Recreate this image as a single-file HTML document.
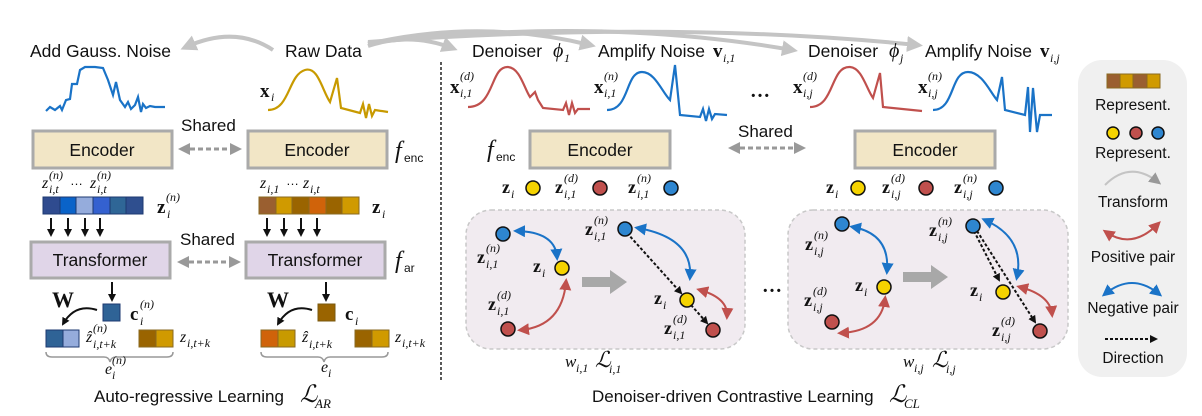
<!DOCTYPE html>
<html><head><meta charset="utf-8">
<style>
html,body{margin:0;padding:0;background:#fff;}
svg{display:block;}
.s{font-family:"Liberation Sans",sans-serif;fill:#111;}
.m{font-family:"Liberation Serif",serif;font-style:italic;fill:#111;}
.b{font-family:"Liberation Serif",serif;font-weight:bold;fill:#111;}
</style></head><body>
<svg width="1202" height="416" viewBox="0 0 1202 416" xmlns="http://www.w3.org/2000/svg">
<defs>
<marker id="ak" markerWidth="8" markerHeight="8" refX="6" refY="4" orient="auto-start-reverse" markerUnits="userSpaceOnUse"><path d="M0,0 L8,4 L0,8 z" fill="#111"/></marker>
<marker id="ag" markerWidth="12" markerHeight="12" refX="8" refY="6" orient="auto-start-reverse" markerUnits="userSpaceOnUse"><path d="M0,0 L12,6 L0,12 z" fill="#999"/></marker>
<marker id="al" markerWidth="16" markerHeight="16" refX="10" refY="8" orient="auto-start-reverse" markerUnits="userSpaceOnUse"><path d="M0,0 L16,8 L0,16 z" fill="#c4c4c4"/></marker>
<marker id="ab" markerWidth="12" markerHeight="12" refX="8" refY="6" orient="auto-start-reverse" markerUnits="userSpaceOnUse"><path d="M0,0 L12,6 L0,12 z" fill="#1a73c7"/></marker>
<marker id="ar" markerWidth="12" markerHeight="12" refX="8" refY="6" orient="auto-start-reverse" markerUnits="userSpaceOnUse"><path d="M0,0 L12,6 L0,12 z" fill="#c0504d"/></marker>
</defs>

<!-- top grey transform arrows -->
<g fill="none" stroke="#c4c4c4" stroke-width="4" marker-end="url(#al)">
<path d="M273,50 Q235,25 186,47"/>
<path d="M368,46 Q410,32 452,48"/>
<path d="M368,44 Q480,18 590,45"/>
<path d="M368,43 Q600,16 792,50"/>
<path d="M368,42 Q670,20 917,45"/>
</g>

<!-- top texts -->
<text class="s" x="30" y="57" font-size="17.5">Add Gauss. Noise</text>
<text class="s" x="285" y="57" font-size="17.5">Raw Data</text>
<text class="s" x="472" y="57" font-size="17.5">Denoiser</text>
<text class="m" x="553" y="57" font-size="20">ϕ</text><text class="m" x="564" y="62" font-size="12">1</text>
<text class="s" x="598" y="57" font-size="17.5">Amplify Noise</text>
<text class="b" x="713" y="57" font-size="19">v</text><text class="m" x="723" y="62" font-size="12">i,1</text>
<text class="s" x="808" y="57" font-size="17.5">Denoiser</text>
<text class="m" x="889" y="57" font-size="20">ϕ</text><text class="m" x="900" y="62" font-size="12">j</text>
<text class="s" x="925" y="57" font-size="17.5">Amplify Noise</text>
<text class="b" x="1040" y="57" font-size="19">v</text><text class="m" x="1050" y="62" font-size="12">i,j</text>

<!-- left signals -->
<polyline fill="none" stroke="#1a73c7" stroke-width="2.2" points="46,111 50,107 55,110 60,106 62,110 66,100 70,99 72,84 77,84 80,70 85,67 95,67 103,68 108,80 113,95 116,82 120,100 125,107 128,102 131,109 135,105 138,97 141,112 143,104 146,108 150,106 155,107 165,107"/>
<text class="b" x="260" y="97" font-size="19">x</text><text class="m" x="271" y="101" font-size="12">i</text>
<path fill="none" stroke="#c89a00" stroke-width="2.2" d="M268,110 C290,110 288,75 305,70 C318,66 322,90 330,102 L337,78 L341,108 L360,113 L363,104 L366,118 L369,104 L372,116 L375,110 L388,112"/>

<!-- right signals -->
<text class="b" x="450" y="93" font-size="19">x</text><text class="m" x="460" y="80" font-size="12">(d)</text><text class="m" x="460" y="97" font-size="12">i,1</text>
<path fill="none" stroke="#c0504d" stroke-width="2.2" d="M468,107 C495,107 490,66 508,67 C520,68 524,88 530,97 L535,92 L538,100 L543,108 L563,110 L566,103 L569,115 L572,103 L575,113 L578,109 L590,109"/>
<text class="b" x="594" y="93" font-size="19">x</text><text class="m" x="604" y="80" font-size="12">(n)</text><text class="m" x="604" y="97" font-size="12">i,1</text>
<path fill="none" stroke="#1a73c7" stroke-width="2.2" d="M607,110 C630,110 625,72 642,72 C655,72 662,92 670,100 L675,65 L680,115 L700,117 L703,109 L706,121 L709,109 L712,119 L715,114 L727,115"/>
<text class="b" x="750" y="97" font-size="20">…</text>
<text class="b" x="793" y="93" font-size="19">x</text><text class="m" x="803" y="80" font-size="12">(d)</text><text class="m" x="803" y="97" font-size="12">i,j</text>
<path fill="none" stroke="#c0504d" stroke-width="2.2" d="M810,107 C835,107 830,66 850,67 C862,68 866,88 873,98 L880,73 L883,107 L922,111"/>
<text class="b" x="918" y="93" font-size="19">x</text><text class="m" x="928" y="80" font-size="12">(n)</text><text class="m" x="928" y="97" font-size="12">i,j</text>
<path fill="none" stroke="#1a73c7" stroke-width="2.2" d="M933,110 C955,110 950,72 968,72 C982,72 990,92 997,100 L1002,77 L1005,110 L1025,115 L1028,87 L1030,132 L1033,88 L1037,132 L1040,115 L1052,115"/>

<!-- separator -->
<line x1="441" y1="62" x2="441" y2="382" stroke="#222" stroke-width="1.5" stroke-dasharray="3,2"/>

<!-- encoders -->
<g stroke="#aaa" stroke-width="3" fill="#f2e6c6">
<rect x="33" y="131" width="139" height="37"/>
<rect x="248" y="131" width="139" height="37"/>
<rect x="530" y="131" width="140" height="37"/>
<rect x="855" y="131" width="140" height="37"/>
</g>
<g class="s" font-size="17.5" text-anchor="middle">
<text x="102" y="156">Encoder</text>
<text x="317" y="156">Encoder</text>
<text x="600" y="156">Encoder</text>
<text x="925" y="156">Encoder</text>
</g>
<text class="s" x="181" y="131" font-size="17">Shared</text>
<text class="s" x="738" y="137" font-size="17">Shared</text>
<text class="s" x="180" y="245" font-size="17">Shared</text>
<g stroke="#999" stroke-width="3" stroke-dasharray="5,3" fill="none" marker-start="url(#ag)" marker-end="url(#ag)">
<line x1="182" y1="149" x2="238" y2="149"/>
<line x1="732" y1="148" x2="802" y2="148"/>
<line x1="181" y1="262" x2="237" y2="262"/>
</g>
<text class="m" x="395" y="158" font-size="24">f</text><text class="s" x="404" y="162" font-size="12">enc</text>
<text class="m" x="395" y="268" font-size="24">f</text><text class="s" x="404" y="272" font-size="12">ar</text>
<text class="m" x="487" y="157" font-size="24">f</text><text class="s" x="496" y="161" font-size="12">enc</text>

<!-- z labels left -->
<text class="m" x="42" y="188" font-size="16">z</text><text class="m" x="49" y="179" font-size="12">(n)</text><text class="m" x="49" y="193" font-size="12">i,t</text>
<text class="s" x="70" y="185" font-size="13">…</text>
<text class="m" x="90" y="188" font-size="16">z</text><text class="m" x="97" y="179" font-size="12">(n)</text><text class="m" x="97" y="193" font-size="12">i,t</text>
<text class="m" x="260" y="188" font-size="16">z</text><text class="m" x="267" y="193" font-size="12">i,1</text>
<text class="s" x="286" y="185" font-size="13">…</text>
<text class="m" x="303" y="188" font-size="16">z</text><text class="m" x="310" y="193" font-size="12">i,t</text>

<!-- strips -->
<g stroke="#1e3a70" stroke-width="1">
<rect x="43" y="197" width="17" height="17" fill="#2f4b8f"/>
<rect x="60" y="197" width="16" height="17" fill="#0a63c9"/>
<rect x="76" y="197" width="17" height="17" fill="#95acdc"/>
<rect x="93" y="197" width="17" height="17" fill="#3461d0"/>
<rect x="110" y="197" width="16" height="17" fill="#2f6696"/>
<rect x="126" y="197" width="17" height="17" fill="#2f4f8f"/>
</g>
<g stroke="#8a6a20" stroke-width="1">
<rect x="259" y="197" width="17" height="17" fill="#9a5f30"/>
<rect x="276" y="197" width="16" height="17" fill="#d09a00"/>
<rect x="292" y="197" width="17" height="17" fill="#9a6400"/>
<rect x="309" y="197" width="17" height="17" fill="#d0630a"/>
<rect x="326" y="197" width="16" height="17" fill="#9a6400"/>
<rect x="342" y="197" width="17" height="17" fill="#d09a00"/>
</g>
<text class="b" x="157" y="213" font-size="19">z</text><text class="m" x="166" y="201" font-size="12">(n)</text><text class="m" x="167" y="218" font-size="12">i</text>
<text class="b" x="372" y="213" font-size="19">z</text><text class="m" x="382" y="218" font-size="12">i</text>

<!-- down arrows -->
<g stroke="#111" stroke-width="2" marker-end="url(#ak)">
<line x1="51" y1="218" x2="51" y2="235"/><line x1="68" y1="218" x2="68" y2="235"/><line x1="85" y1="218" x2="85" y2="235"/><line x1="100" y1="218" x2="100" y2="235"/>
<line x1="267" y1="218" x2="267" y2="235"/><line x1="284" y1="218" x2="284" y2="235"/><line x1="301" y1="218" x2="301" y2="235"/><line x1="317" y1="218" x2="317" y2="235"/>
<line x1="112" y1="282" x2="112" y2="300"/><line x1="326" y1="282" x2="326" y2="300"/>
</g>

<!-- transformers -->
<g stroke="#aaa" stroke-width="3" fill="#e0d5e8">
<rect x="31" y="242" width="139" height="36"/>
<rect x="246" y="242" width="139" height="36"/>
</g>
<g class="s" font-size="17.5" text-anchor="middle">
<text x="100" y="266">Transformer</text>
<text x="315" y="266">Transformer</text>
</g>

<!-- bottom left AR -->
<rect x="103" y="304" width="17" height="17" fill="#2f6396" stroke="#1e3a70"/>
<rect x="318" y="304" width="17" height="17" fill="#9a6400" stroke="#7a5a10"/>
<text class="b" x="130" y="320" font-size="19">c</text><text class="m" x="140" y="308" font-size="12">(n)</text><text class="m" x="140" y="325" font-size="12">i</text>
<text class="b" x="345" y="320" font-size="19">c</text><text class="m" x="355" y="325" font-size="12">i</text>
<text class="b" x="52" y="307" font-size="22">W</text>
<text class="b" x="267" y="307" font-size="22">W</text>
<path d="M97,310 Q75,303 63,324" fill="none" stroke="#111" stroke-width="2" marker-end="url(#ak)"/>
<path d="M312,310 Q290,303 278,324" fill="none" stroke="#111" stroke-width="2" marker-end="url(#ak)"/>
<rect x="46" y="330" width="17" height="17" fill="#2f6396" stroke="#1e3a70"/>
<rect x="63" y="330" width="16" height="17" fill="#95acdc" stroke="#1e3a70"/>
<rect x="139" y="330" width="17" height="17" fill="#9a6400" stroke="#8a6a20"/>
<rect x="156" y="330" width="17" height="17" fill="#d09a00" stroke="#8a6a20"/>
<rect x="261" y="330" width="17" height="17" fill="#d0630a" stroke="#8a6a20"/>
<rect x="278" y="330" width="17" height="17" fill="#c89a00" stroke="#8a6a20"/>
<rect x="355" y="330" width="17" height="17" fill="#9a6400" stroke="#8a6a20"/>
<rect x="372" y="330" width="17" height="17" fill="#d09a00" stroke="#8a6a20"/>
<text class="m" x="86" y="342" font-size="16">ẑ</text><text class="m" x="93" y="332" font-size="12">(n)</text><text class="m" x="93" y="348" font-size="12">i,t+k</text>
<text class="m" x="180" y="342" font-size="16">z</text><text class="m" x="187" y="347" font-size="12">i,t+k</text>
<text class="m" x="302" y="342" font-size="16">ẑ</text><text class="m" x="309" y="348" font-size="12">i,t+k</text>
<text class="m" x="395" y="342" font-size="16">z</text><text class="m" x="402" y="347" font-size="12">i,t+k</text>
<path d="M46,352 Q46,357 52,357 L104,357 Q109,357 110,362 Q111,357 116,357 L167,357 Q173,357 173,352" fill="none" stroke="#999" stroke-width="1.5"/>
<path d="M261,352 Q261,357 267,357 L318,357 Q323,357 324,362 Q325,357 330,357 L382,357 Q388,357 388,352" fill="none" stroke="#999" stroke-width="1.5"/>
<text class="m" x="105" y="374" font-size="16">e</text><text class="m" x="112" y="364" font-size="12">(n)</text><text class="m" x="112" y="379" font-size="12">i</text>
<text class="m" x="321" y="372" font-size="16">e</text><text class="m" x="328" y="377" font-size="12">i</text>
<text class="s" x="94" y="402" font-size="17">Auto-regressive Learning</text>
<text class="m" x="300" y="402" font-size="24">ℒ</text><text class="m" x="315" y="408" font-size="13">AR</text>

<!-- dots rows -->
<g>
<text class="b" x="502" y="193" font-size="18">z</text><text class="m" x="511" y="198" font-size="12">i</text>
<text class="b" x="555" y="193" font-size="18">z</text><text class="m" x="564" y="182" font-size="12">(d)</text><text class="m" x="564" y="198" font-size="12">i,1</text>
<text class="b" x="628" y="193" font-size="18">z</text><text class="m" x="637" y="182" font-size="12">(n)</text><text class="m" x="637" y="198" font-size="12">i,1</text>
<text class="b" x="826" y="193" font-size="18">z</text><text class="m" x="835" y="198" font-size="12">i</text>
<text class="b" x="882" y="193" font-size="18">z</text><text class="m" x="891" y="182" font-size="12">(d)</text><text class="m" x="891" y="198" font-size="12">i,j</text>
<text class="b" x="954" y="193" font-size="18">z</text><text class="m" x="963" y="182" font-size="12">(n)</text><text class="m" x="963" y="198" font-size="12">i,j</text>
</g>
<g stroke="#111" stroke-width="1.5">
<circle cx="533" cy="188" r="7" fill="#f5d300"/><circle cx="600" cy="188" r="7" fill="#c0504d"/><circle cx="671" cy="188" r="7" fill="#2e86d0"/>
<circle cx="858" cy="188" r="7" fill="#f5d300"/><circle cx="926" cy="188" r="7" fill="#c0504d"/><circle cx="996" cy="188" r="7" fill="#2e86d0"/>
</g>

<!-- panels -->
<rect x="466" y="210" width="279" height="139" rx="25" fill="#f1ebf0" stroke="#c8c8c8" stroke-width="1.5" stroke-dasharray="4,3"/>
<rect x="788" y="210" width="280" height="139" rx="25" fill="#f1ebf0" stroke="#c8c8c8" stroke-width="1.5" stroke-dasharray="4,3"/>
<text class="b" x="762" y="292" font-size="20">…</text>

<!-- panel 1 -->
<path d="M582,277 L610,277 L610,270 L627,282 L610,294 L610,287 L582,287 z" fill="#a8a8a8"/>
<path d="M517,231 Q555,232 557,257" fill="none" stroke="#1a73c7" stroke-width="2" marker-start="url(#ab)" marker-end="url(#ab)"/>
<path d="M521,330 Q562,326 566,282" fill="none" stroke="#c0504d" stroke-width="2" marker-start="url(#ar)" marker-end="url(#ar)"/>
<path d="M638,228 Q693,238 690,277" fill="none" stroke="#1a73c7" stroke-width="2" marker-start="url(#ab)" marker-end="url(#ab)"/>
<path d="M700,290 Q728,298 727,316" fill="none" stroke="#c0504d" stroke-width="2" marker-start="url(#ar)" marker-end="url(#ar)"/>
<g stroke="#111" stroke-width="2" stroke-dasharray="3,2" marker-end="url(#ak)">
<line x1="627" y1="233" x2="681" y2="293"/><line x1="691" y1="305" x2="707" y2="323"/>
</g>
<g stroke="#111" stroke-width="1.5">
<circle cx="503" cy="234" r="7" fill="#2e86d0"/><circle cx="562" cy="268" r="7" fill="#f5d300"/><circle cx="508" cy="329" r="7" fill="#c0504d"/>
<circle cx="625" cy="229" r="7" fill="#2e86d0"/><circle cx="687" cy="300" r="7" fill="#f5d300"/><circle cx="713" cy="330" r="7" fill="#c0504d"/>
</g>
<text class="b" x="477" y="263" font-size="18">z</text><text class="m" x="486" y="252" font-size="12">(n)</text><text class="m" x="486" y="268" font-size="12">i,1</text>
<text class="b" x="533" y="272" font-size="18">z</text><text class="m" x="542" y="277" font-size="12">i</text>
<text class="b" x="488" y="310" font-size="18">z</text><text class="m" x="497" y="299" font-size="12">(d)</text><text class="m" x="497" y="315" font-size="12">i,1</text>
<text class="b" x="585" y="235" font-size="18">z</text><text class="m" x="594" y="224" font-size="12">(n)</text><text class="m" x="594" y="240" font-size="12">i,1</text>
<text class="b" x="654" y="304" font-size="18">z</text><text class="m" x="663" y="309" font-size="12">i</text>
<text class="b" x="664" y="334" font-size="18">z</text><text class="m" x="673" y="323" font-size="12">(d)</text><text class="m" x="673" y="339" font-size="12">i,1</text>

<!-- panel 2 -->
<path d="M903,272 L931,272 L931,265 L948,277 L931,289 L931,282 L903,282 z" fill="#a8a8a8"/>
<path d="M853,227 Q890,234 887,271" fill="none" stroke="#1a73c7" stroke-width="2" marker-start="url(#ab)" marker-end="url(#ab)"/>
<path d="M841,333 Q881,331 885,299" fill="none" stroke="#c0504d" stroke-width="2" marker-start="url(#ar)" marker-end="url(#ar)"/>
<path d="M985,220 Q1025,238 1017,277" fill="none" stroke="#1a73c7" stroke-width="2" marker-start="url(#ab)" marker-end="url(#ab)"/>
<path d="M1020,287 Q1050,295 1052,314" fill="none" stroke="#c0504d" stroke-width="2" marker-start="url(#ar)" marker-end="url(#ar)"/>
<g stroke="#111" stroke-width="2" stroke-dasharray="3,2" marker-end="url(#ak)">
<line x1="974" y1="231" x2="999" y2="280"/><line x1="977" y1="231" x2="1035" y2="322"/>
</g>
<g stroke="#111" stroke-width="1.5">
<circle cx="842" cy="224" r="7" fill="#2e86d0"/><circle cx="884" cy="287" r="7" fill="#f5d300"/><circle cx="832" cy="322" r="7" fill="#c0504d"/>
<circle cx="973" cy="226" r="7" fill="#2e86d0"/><circle cx="1003" cy="292" r="7" fill="#f5d300"/><circle cx="1040" cy="331" r="7" fill="#c0504d"/>
</g>
<text class="b" x="805" y="250" font-size="18">z</text><text class="m" x="814" y="239" font-size="12">(n)</text><text class="m" x="814" y="255" font-size="12">i,j</text>
<text class="b" x="855" y="291" font-size="18">z</text><text class="m" x="864" y="296" font-size="12">i</text>
<text class="b" x="804" y="306" font-size="18">z</text><text class="m" x="813" y="295" font-size="12">(d)</text><text class="m" x="813" y="311" font-size="12">i,j</text>
<text class="b" x="929" y="236" font-size="18">z</text><text class="m" x="938" y="225" font-size="12">(n)</text><text class="m" x="938" y="241" font-size="12">i,j</text>
<text class="b" x="970" y="296" font-size="18">z</text><text class="m" x="979" y="301" font-size="12">i</text>
<text class="b" x="992" y="336" font-size="18">z</text><text class="m" x="1001" y="325" font-size="12">(d)</text><text class="m" x="1001" y="341" font-size="12">i,j</text>

<text class="m" x="565" y="367" font-size="17">w</text><text class="m" x="576" y="372" font-size="12">i,1</text>
<text class="m" x="595" y="367" font-size="22">ℒ</text><text class="m" x="609" y="373" font-size="12">i,1</text>
<text class="m" x="903" y="367" font-size="17">w</text><text class="m" x="914" y="372" font-size="12">i,j</text>
<text class="m" x="932" y="367" font-size="22">ℒ</text><text class="m" x="946" y="373" font-size="12">i,j</text>
<text class="s" x="592" y="402" font-size="17">Denoiser-driven Contrastive Learning</text>
<text class="m" x="889" y="402" font-size="24">ℒ</text><text class="m" x="904" y="408" font-size="13">CL</text>

<!-- legend -->
<rect x="1078" y="60" width="109" height="317" rx="24" fill="#f0f0f0"/>
<g stroke="#8a6a20" stroke-width="1">
<rect x="1107" y="74" width="13" height="14" fill="#9a5f30"/><rect x="1120" y="74" width="13" height="14" fill="#d09a00"/>
<rect x="1133" y="74" width="14" height="14" fill="#9a5f30"/><rect x="1147" y="74" width="13" height="14" fill="#d09a00"/>
</g>
<g class="s" font-size="15.5" text-anchor="middle">
<text x="1133" y="110">Represent.</text>
<text x="1133" y="158">Represent.</text>
<text x="1133" y="207">Transform</text>
<text x="1133" y="262">Positive pair</text>
<text x="1133" y="313">Negative pair</text>
<text x="1133" y="363">Direction</text>
</g>
<g stroke="#111" stroke-width="1.5">
<circle cx="1113" cy="133" r="6" fill="#f5d300"/><circle cx="1136" cy="133" r="6" fill="#c0504d"/><circle cx="1158" cy="133" r="6" fill="#2e86d0"/>
</g>
<path d="M1105,185 Q1130,160 1158,182" fill="none" stroke="#c4c4c4" stroke-width="2" marker-end="url(#ag)"/>
<path d="M1106,232 Q1132,250 1158,224" fill="none" stroke="#c0504d" stroke-width="2" marker-start="url(#ar)" marker-end="url(#ar)"/>
<path d="M1105,294 Q1132,272 1159,294" fill="none" stroke="#1a73c7" stroke-width="2" marker-start="url(#ab)" marker-end="url(#ab)"/>
<line x1="1105" y1="339" x2="1156" y2="339" stroke="#111" stroke-width="2" stroke-dasharray="3,2" marker-end="url(#ak)"/>
</svg>
</body></html>
